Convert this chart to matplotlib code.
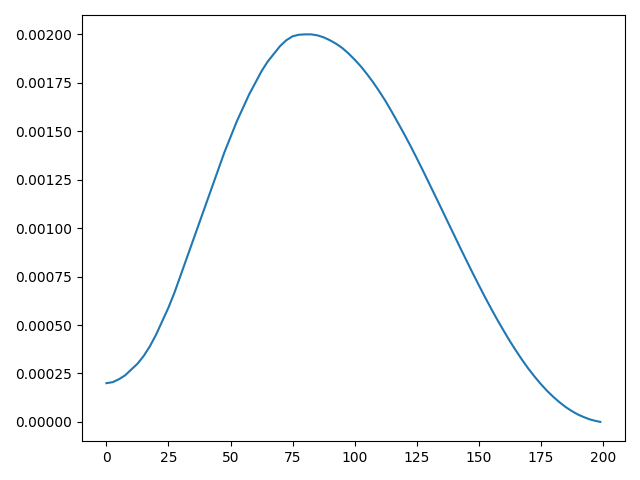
import matplotlib
matplotlib.use("Agg")
import matplotlib.pyplot as plt

# values
steps = [0, 2.5, 5, 7.5, 10, 12.5, 15, 17.5, 20, 22.5,
         25, 27.5, 30, 32.5, 35, 37.5, 40, 42.5, 45, 47.5,
         50, 52.5, 55, 57.5, 60, 62.5, 65, 67.5, 70, 72.5,
         75, 77.5, 80, 82.5, 85, 87.5, 90, 92.5, 95, 97.5,
         100, 102.5, 105, 107.5, 110, 112.5, 115, 117.5, 120, 122.5,
         125, 127.5, 130, 132.5, 135, 137.5, 140, 142.5, 145, 147.5,
         150, 152.5, 155, 157.5, 160, 162.5, 165, 167.5, 170, 172.5,
         175, 177.5, 180, 182.5, 185, 187.5, 190, 192.5, 195, 197.5,
         199]
lr = [0.000200, 0.000205, 0.000220, 0.000240, 0.000270, 0.000300, 0.000340, 0.000390, 0.000450, 0.000520,
      0.000590, 0.000670, 0.000760, 0.000850, 0.000940, 0.001030, 0.001120, 0.001210, 0.001300, 0.001390,
      0.001470, 0.001550, 0.001620, 0.001690, 0.001750, 0.001810, 0.001860, 0.001900, 0.001940, 0.001970,
      0.001990, 0.001998, 0.002000, 0.002000, 0.001995, 0.001985, 0.001970, 0.001952, 0.001930, 0.001902,
      0.001870, 0.001835, 0.001795, 0.001752, 0.001705, 0.001655, 0.001600, 0.001543, 0.001485, 0.001425,
      0.001362, 0.001298, 0.001232, 0.001166, 0.001100, 0.001033, 0.000967, 0.000900, 0.000835, 0.000770,
      0.000707, 0.000645, 0.000585, 0.000527, 0.000472, 0.000418, 0.000368, 0.000320, 0.000275, 0.000234,
      0.000196, 0.000161, 0.000130, 0.000102, 0.000077, 0.000056, 0.000038, 0.000024, 0.000012, 0.000004,
      0.000000]

fig = plt.figure(figsize=(6.4, 4.8), dpi=100)
plt.plot(steps, lr)
plt.tight_layout()
plt.savefig("out.png")
